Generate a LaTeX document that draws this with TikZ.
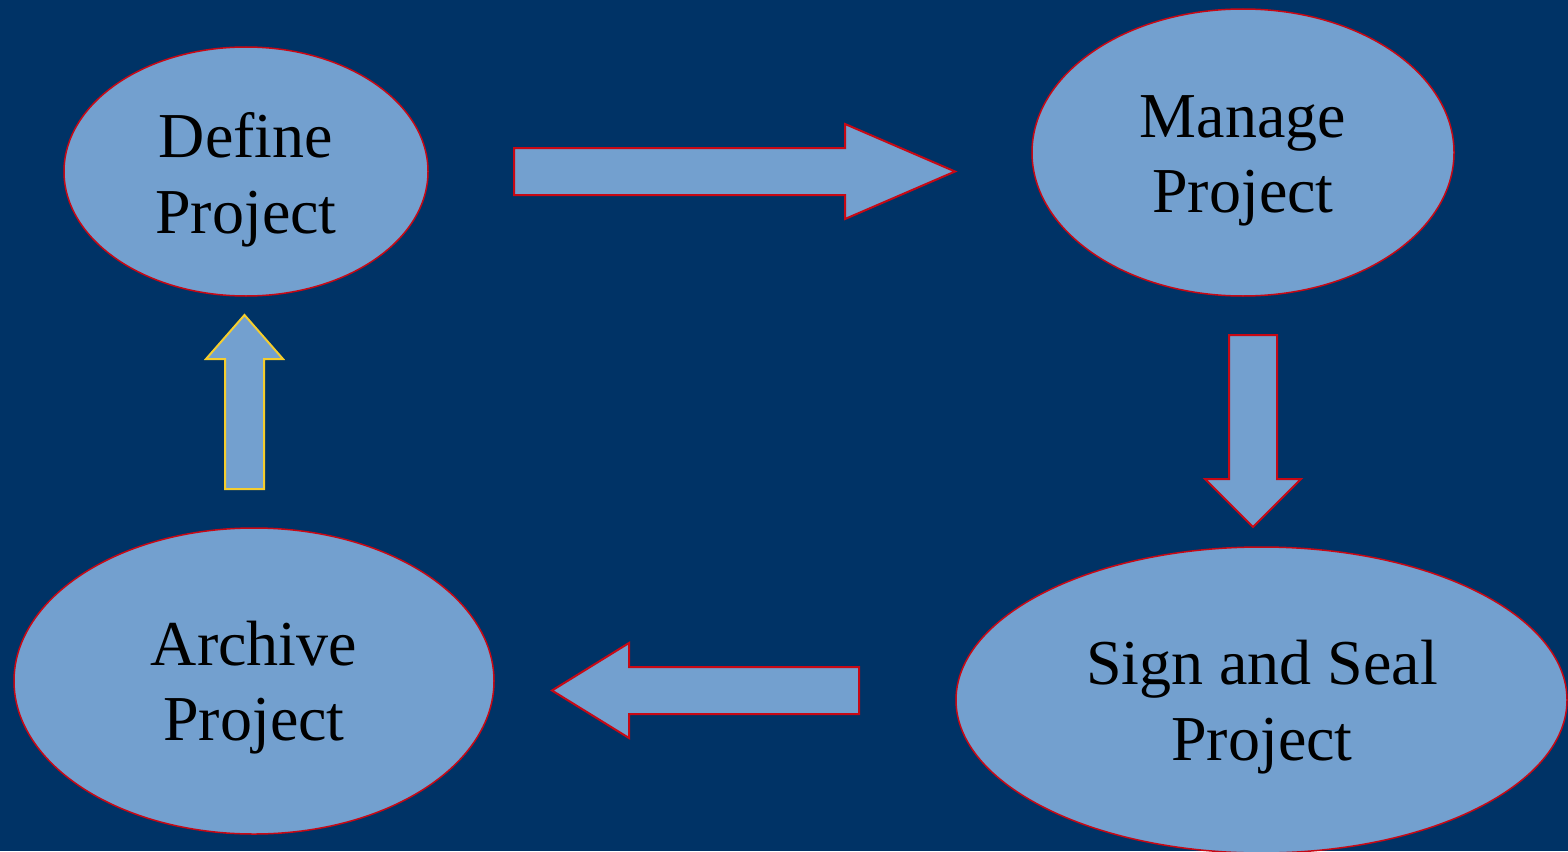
\documentclass[tikz,border=0pt]{standalone}
\usepackage{fontspec}
\setmainfont{Liberation Serif}
\usetikzlibrary{shapes.geometric}

\definecolor{navy}{RGB}{0,51,102}
\definecolor{stepfill}{RGB}{115,160,207}
\definecolor{edgered}{RGB}{200,8,20}
\definecolor{edgeyellow}{RGB}{245,205,45}

\tikzset{
  phase/.style={ellipse, draw=edgered, fill=stepfill, line width=1.5pt, inner sep=0pt},
  blockarrow/.style={draw=edgered, fill=stepfill, line width=2pt, line join=miter},
  lbl/.style={anchor=base, inner sep=0pt, text=black,
              font=\fontsize{64}{76}\selectfont},
}

\begin{document}
\begin{tikzpicture}[x=1pt, y=-1pt]
  \useasboundingbox (0,0) rectangle (1568,851);
  \clip (0,0) rectangle (1568,851);
  \fill[navy] (0,0) rectangle (1568,851);

  % the four phases
  \node[phase, minimum width=364pt, minimum height=249pt] (define) at (246,171.5) {};
  \node[phase, minimum width=422pt, minimum height=287pt] (manage) at (1243,152.5) {};
  \node[phase, minimum width=611pt, minimum height=306pt] (sign)   at (1261.5,700) {};
  \node[phase, minimum width=480pt, minimum height=306pt] (archive) at (254,681) {};

  % labels, one node per line
  \node[lbl] (define1)  at (246,157)  {Define};
  \node[lbl] (define2)  at (246,233)  {Project};
  \node[lbl] (manage1)  at (1243,137) {Manage};
  \node[lbl] (manage2)  at (1243,212) {Project};
  \node[lbl] (sign1)    at (1262,684) {Sign and Seal};
  \node[lbl] (sign2)    at (1262,760) {Project};
  \node[lbl] (archive1) at (254,665)  {Archive};
  \node[lbl] (archive2) at (254,740)  {Project};

  % block arrows between the phases
  \draw[blockarrow] (514,148) -- (845,148) -- (845,124) -- (955,171.5)
    -- (845,219) -- (845,195) -- (514,195) -- cycle;
  \draw[blockarrow] (1229,335) -- (1277,335) -- (1277,479) -- (1301,479)
    -- (1253,527) -- (1205,479) -- (1229,479) -- cycle;
  \draw[blockarrow] (859,667) -- (629,667) -- (629,643) -- (552,690.5)
    -- (629,738) -- (629,714) -- (859,714) -- cycle;
  \draw[blockarrow, draw=edgeyellow] (225,489) -- (225,359) -- (206,359)
    -- (244.5,315) -- (283,359) -- (264,359) -- (264,489) -- cycle;
\end{tikzpicture}
\end{document}
